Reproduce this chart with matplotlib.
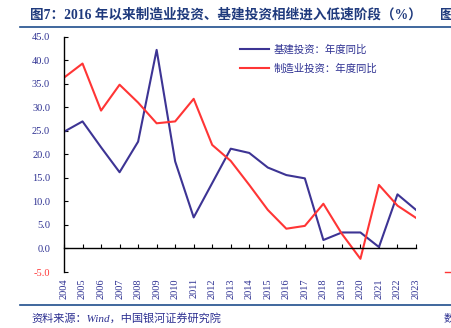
import matplotlib.pyplot as plt
import numpy as np

# chart data
years = list(range(2004, 2024))
infra = [24.8, 27.0, 21.5, 16.2, 22.7, 42.2, 18.5, 6.6, 13.9, 21.2,
         20.3, 17.2, 15.6, 14.9, 1.8, 3.4, 3.4, 0.3, 11.5, 8.2]
manuf = [36.3, 39.3, 29.3, 34.8, 31.0, 26.6, 27.0, 31.8, 22.0, 18.6,
         13.5, 8.2, 4.2, 4.8, 9.5, 3.1, -2.2, 13.5, 9.1, 6.5]
yticks = np.arange(-5, 46, 5)

title = "图7：2016 年以来制造业投资、基建投资相继进入低速阶段（%）"
source = "资料来源：Wind，中国银河证券研究院"
legend_labels = ["基建投资：年度同比", "制造业投资：年度同比"]

fonts = ["Liberation Serif", "Noto Sans CJK SC", "DejaVu Sans"]
plt.rcParams["font.family"] = fonts
plt.rcParams["axes.unicode_minus"] = False

navy = "#2E3192"
blue = "#3D3494"
red = "#FF3535"

W, H = 451, 328
fig = plt.figure(figsize=(W / 100, H / 100), dpi=100)

# axes placed in pixel terms
left, right, top, bottom = 64, 416, 36.7, 272
ax = fig.add_axes([left / W, 1 - bottom / H, (right - left) / W, (bottom - top) / H])

ax.plot(years, infra, color=blue, lw=1.5, label=legend_labels[0])
ax.plot(years, manuf, color=red, lw=1.5, label=legend_labels[1])

ax.set_xlim(years[0], years[-1])
ax.set_ylim(-5, 45)

# spines: left one plus x axis line sitting at zero
for s in ["top", "right"]:
    ax.spines[s].set_visible(False)
ax.spines["bottom"].set_position(("data", 0))
ax.spines["left"].set_color("black")
ax.spines["bottom"].set_color("black")
ax.spines["left"].set_linewidth(1.0)
ax.spines["bottom"].set_linewidth(1.0)

ax.set_yticks(yticks)
ax.set_yticklabels(["%.1f" % v for v in yticks])
ax.set_xticks(years)
ax.set_xticklabels([str(y) for y in years], rotation=90)

ax.tick_params(axis="y", direction="in", length=3, width=0.8, labelsize=7.5,
               labelcolor=navy, pad=10)
ax.tick_params(axis="x", direction="in", length=3, width=0.8, labelsize=7.5,
               labelcolor=navy, pad=21.5)
for lbl in ax.get_yticklabels():
    if lbl.get_text().startswith("-"):
        lbl.set_color(red)

leg = ax.legend(loc="upper left", bbox_to_anchor=(0.48, 1.0), frameon=False,
                fontsize=7.5, handlelength=2.8, handletextpad=0.4,
                labelspacing=0.9, borderaxespad=0.3)
for t in leg.get_texts():
    t.set_color(navy)

# title, rules and source
fig.text(30 / W, 1 - 15 / H, title, fontsize=9.8, fontweight="bold",
         color="#1F3A7D", va="center", ha="left")
# fragments of the neighbouring chart, cut by the right edge as in the reference
fig.text(440 / W, 1 - 15 / H, "图", fontsize=9.8, fontweight="bold",
         color="#1F3A7D", va="center", ha="left")
fig.add_artist(plt.Line2D([20 / W, 1], [1 - 27 / H] * 2, color="#1F4E8C", lw=1.2))
fig.add_artist(plt.Line2D([20 / W, 1], [1 - 305 / H] * 2, color="#1F4E8C", lw=1.2))
fig.text(31 / W, 1 - 318 / H, source, fontsize=8, color=navy, style="italic",
         va="center", ha="left")
fig.text(444 / W, 1 - 318 / H, "数", fontsize=8, color=navy,
         va="center", ha="left")
fig.add_artist(plt.Line2D([445 / W, 1], [1 - 271.5 / H] * 2, color=red, lw=1.0))

fig.savefig("out.png", dpi=100)
